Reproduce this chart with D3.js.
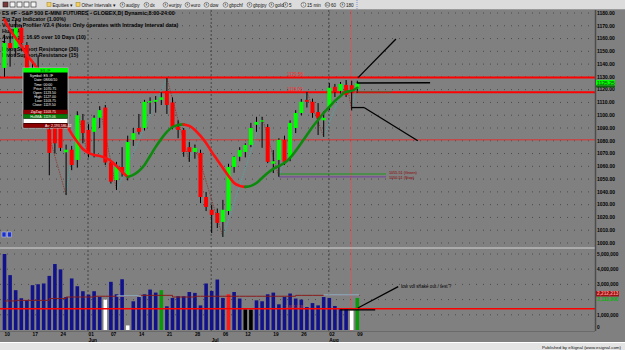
<!DOCTYPE html>
<html>
<head>
<meta charset="utf-8">
<script src="https://cdn.jsdelivr.net/npm/d3@7/dist/d3.min.js"></script>
<style>
body{margin:0;background:#808080;}
svg{display:block;font-family:"Liberation Sans",Arial,sans-serif;}
</style>
</head>
<body>
<div id="chart"></div>
<script>

/*DATA
------------------------------------------------------
------------------------------------------------------
*/

const dates = ["2010-05-10","2010-05-11","2010-05-12","2010-05-13","2010-05-14",
	"2010-05-17","2010-05-18","2010-05-19","2010-05-20","2010-05-21",
	"2010-05-24","2010-05-25","2010-05-26","2010-05-27","2010-05-28",
	"2010-06-01","2010-06-02","2010-06-03","2010-06-04",
	"2010-06-07","2010-06-08","2010-06-09","2010-06-10","2010-06-11",
	"2010-06-14","2010-06-15","2010-06-16","2010-06-17","2010-06-18",
	"2010-06-21","2010-06-22","2010-06-23","2010-06-24","2010-06-25",
	"2010-06-28","2010-06-29","2010-06-30","2010-07-01","2010-07-02",
	"2010-07-06","2010-07-07","2010-07-08","2010-07-09",
	"2010-07-12","2010-07-13","2010-07-14","2010-07-15","2010-07-16",
	"2010-07-19","2010-07-20","2010-07-21","2010-07-22","2010-07-23",
	"2010-07-26","2010-07-27","2010-07-28","2010-07-29","2010-07-30",
	"2010-08-02","2010-08-03","2010-08-04","2010-08-05","2010-08-06",
	"2010-08-09"];

const opens = [1137,1156.5,1152.5,1168.5,1155, 1136,1137,1118,1089,1094,
	1090,1071,1073,1065,1096, 1088.5,1087,1098,1106, 1063,1049.25,1059.5,1052,1080.75,
	1090,1090,1110,1110.5,1112, 1119,1110,1091,1088.5,1075, 1071.25,1070.5,1036,1026,1023.5,
	1016.5,1025,1059.5,1067.5, 1071.25,1076.75,1092.5,1095,1090.75, 1062,1065,1080.75,1066,1090,
	1101.75,1112,1110.5,1102.5,1096, 1105.75,1122.25,1119,1123.75,1123.5, 1120.5];
const highs = [1163,1165,1174.5,1170.75,1157.25, 1142,1147,1122,1092,1097,
	1092,1077,1076,1103,1101, 1093,1100,1107,1108, 1065,1063.5,1075,1084,1090,
	1101,1112,1114,1115,1118, 1129,1114,1096,1090,1079, 1077,1073,1040,1030,1027,
	1033.75,1062,1068,1075, 1078,1094,1098.75,1098.75,1093, 1072.75,1082,1084,1096,1104,
	1112.75,1118.25,1113,1109.5,1103, 1125.25,1124.5,1126,1127.5,1127, 1127];
const lows = [1130,1138,1145.75,1151,1129, 1112,1116,1099,1053,1070,
	1072,1037.5,1057,1059,1078, 1067,1067,1090,1061, 1046.5,1041.5,1052,1049,1076,
	1085,1088,1101,1102,1108, 1101,1089,1082,1067.5,1063.5, 1066,1031.25,1025,1007.75,1011.75,
	1004.75,1022,1055,1064, 1067,1075,1087,1074.5,1062.5, 1054.75,1051.75,1061,1064,1086,
	1100,1106,1098,1084.5,1083, 1104,1114.25,1117,1114.25,1103.75, 1117.5];
const closes = [1156.5,1152.5,1168.5,1156.5,1135, 1134,1119,1113,1070.5,1078,
	1074.5,1073,1061,1100,1086, 1071.25,1098,1104,1063, 1048,1059.5,1055.5,1079,1086,
	1087,1110.5,1111,1112,1114, 1108,1091,1088.5,1071.25,1071.25, 1074.5,1036,1028.25,1022,1015.75,
	1026,1059.5,1067.5,1072.75, 1076.75,1090,1094.75,1096,1063.5, 1064,1080.75,1063.5,1094,1101.75,
	1110.5,1110.5,1101.75,1098,1098, 1121.5,1118.25,1124.5,1116,1119.5, 1125.25];

// volume, millions of contracts
const volumes = [5.0,3.61,2.62,2.09,1.95, 2.95,3.01,3.06,3.56,4.34,
	3.99,2.17,3.39,2.88,2.55, 2.33,2.55,2.17,2.0, 3.17,2.35,3.34,0.30,1.89,
	2.17,2.35,2.66,2.46,2.62, 1.56,2.11,2.22,2.22,2.5, 2.44,1.62,3.06,2.57,3.32,
	2.11,2.35,2.5,2.07, 1.36,1.34,1.95,1.89,2.35, 2.46,1.69,2.17,2.4,2.07,
	2.0,1.51,1.77,1.62,2.17, 2.11,1.58,1.4,1.4,1.29, 2.11];
const volWhite = [18,22,62];
const volGreen = [28,63];
const volRed = [40];
const volBlack = [43,44];

const volAvg = [1.91,1.91,1.95,1.95,1.95, 1.95,1.95,1.95,2.07,2.07,
	2.07,2.17,2.17,2.17,2.17, 2.17,2.22,2.22,2.22,2.22, 2.22,2.22,2.22,2.22,2.28,
	2.28,2.28,2.28,2.28,2.28, 2.17,2.17,2.17,2.17,2.22, 2.22,2.22,2.22,2.22,2.22,
	2.22,2.22,2.22,2.22,2.22, 2.22,2.22,2.22,2.22,2.22, 2.22,2.22,2.28,2.28,2.28,
	2.28,2.28,2.28,2.28,2.28, 2.28,2.28,2.28,2.28];
const volAvgBlue = [[20,24],[57,63]];
const volLevel = 1.40;

const hullMA = [1174.6,1166.8,1160.5,1154.3,1147.2, 1141.7,1135.5,1127.7,1119.8,1112.0,
	1102.6,1093.2,1085.4,1079.1,1073.6, 1070.5,1068.9,1068.1,1066.6,1064.2,
	1060.3,1055.6,1051.7,1053.3,1056.4, 1061.1,1068.1,1075.2,1081.5,1086.9,
	1090.8,1092.4,1092.8,1091.6,1088.5, 1083.8,1078.3,1071.3,1065.0,1058.7,
	1052.5,1047.0,1044.7,1043.9,1044.7, 1047.0,1050.9,1054.8,1058.0,1060.3,
	1062.7,1066.6,1072.1,1078.3,1084.6, 1090.8,1096.3,1101.8,1106.5,1111.2,
	1115.1,1118.3,1119.06,1121.5];

// zig zag pivots: bar index, H = high / L = low
const zigzag = [[2,"H"],[11,"L"],[13,"H"],[15,"L"],[17,"H"],[20,"L"],[29,"H"],[33,"L"],[34,"H"],
	[39,"L"],[46,"H"],[49,"L"],[54,"H"],[57,"L"],[61,"H"],[62,"L"],[63,"H"]];

const priceTicks = d3.range(1000, 1181, 10);
const volTicks = [0,1,3,4,5];
const dayTicks = [0,5,10,15,19,24,29,34,39,43,48,53,58,63];
const monthTicks = [[15,"Jun"],[37,"Jul"],[58,"Aug"]];

const levels = [{p:1129.58, w:2, label:"1129.58"}, {p:1118.00, w:2, label:"1118.00"}, {p:1080.75, w:1, label:""}];
const stops = [{p:1054.01, c:"#00a000", label:"1055.51 (Green)"}, {p:1051.75, c:"#7030a0", label:"1050.51 (Stop)"}];

// drawn lines: [bar index, price]
const drawnLines = [
	[[63.1,1129.2],[69.9,1159.7]],
	[[62.9,1125.2],[76.0,1125.4]],
	[[62.0,1106.0],[64.2,1106.0]],
	[[64.2,1106.0],[73.8,1080.0]]
];
// drawn lines in the volume pane: [bar index, volume]
const drawnVol = [
	[[63.1,1.45],[70.3,2.85]],
	[[59.9,1.32],[66.2,1.32]]
];

const headerLines = ["ES #F - S&P 500 E-MINI FUTURES - GLOBEX,D| Dynamic,8:00-24:00",
	"Zig Zag Indicator (1.00%)",
	"Volume Profiler V2.4 (Note: Only operates with Intraday Interval data)",
	"HullMA",
	"Average: 16.95 over 10 Days (10)",
	"T",
	"Pivot Support Resistance (30)",
	"Pivot Support Resistance (15)"];

const dwLabels = ["Symbol:","Date:","Time:","Price:","Open:","High:","Low:","Close:"];
const dwValues = ["ES #F","08/06/10","00:00","1070.75","1123.50","1127.00","1103.75","1119.50"];

const toolbarItems = ["audjpy","dx","eurjpy","euro","dow","gbpchf","gbpjpy","gold","5","15 min","60","180"];
const toolbarNums = ["E","E","E","E","E","E","E","E","E","5","60","E"];

/*SCALES
------------------------------------------------------
------------------------------------------------------
*/

const width = 625, height = 350;
const plotRight = 595;

const x = d3.scaleLinear().domain([0, 63]).range([4.5, 357.3]);
const y = d3.scaleLinear().domain([1000, 1180]).range([243, 13]);
const yv = d3.scaleLinear().domain([0, 5]).range([330, 254]);

const svg = d3.select("#chart").append("svg")
	.attr("width", width)
	.attr("height", height);

svg.append("rect").attr("width", width).attr("height", height).attr("fill", "#808080");

const defs = svg.append("defs");
defs.append("clipPath").attr("id", "cp").append("rect")
	.attr("x", 0).attr("y", 10).attr("width", plotRight).attr("height", 236);
defs.append("clipPath").attr("id", "cv").append("rect")
	.attr("x", 0).attr("y", 249).attr("width", plotRight).attr("height", 82);

/*GRID
------------------------------------------------------
------------------------------------------------------
*/

svg.append("g").selectAll("line")
	.data(priceTicks)
	.enter().append("line")
	.attr("x1", 0).attr("x2", plotRight)
	.attr("y1", d => y(d)).attr("y2", d => y(d))
	.attr("stroke", "#4a4a4a").attr("stroke-dasharray", "1,6");

svg.append("g").selectAll("line")
	.data([1,2,3,4,5])
	.enter().append("line")
	.attr("x1", 0).attr("x2", plotRight)
	.attr("y1", d => yv(d)).attr("y2", d => yv(d))
	.attr("stroke", "#4a4a4a").attr("stroke-dasharray", "1,6");

svg.append("g").selectAll("line")
	.data(monthTicks)
	.enter().append("line")
	.attr("x1", d => x(d[0]) - 0.5).attr("x2", d => x(d[0]) - 0.5)
	.attr("y1", 10).attr("y2", 331)
	.attr("stroke", "#454545").attr("stroke-dasharray", "2,2");

// cursor
svg.append("line")
	.attr("x1", x(62) - 0.5).attr("x2", x(62) - 0.5)
	.attr("y1", 10).attr("y2", 331)
	.attr("stroke", "#e05050").attr("stroke-width", 0.8);

/*HEADER
------------------------------------------------------
------------------------------------------------------
*/

svg.append("g").selectAll("text")
	.data(headerLines)
	.enter().append("text")
	.attr("x", 2)
	.attr("y", (d, i) => 15 + i * 6)
	.attr("font-size", 5.4)
	.attr("font-weight", "bold")
	.attr("fill", "#000")
	.text(d => d);

/*PRICE PANE
------------------------------------------------------
------------------------------------------------------
*/

const gp = svg.append("g").attr("clip-path", "url(#cp)");

gp.selectAll(".lvl")
	.data(levels)
	.enter().append("line")
	.attr("x1", 0).attr("x2", plotRight)
	.attr("y1", d => y(d.p)).attr("y2", d => y(d.p))
	.attr("stroke", d => d.w > 1 ? "#ff0000" : "#e03030")
	.attr("stroke-width", d => d.w);

gp.selectAll(".lvlt")
	.data(levels.filter(d => d.label))
	.enter().append("text")
	.attr("x", 287).attr("y", d => y(d.p) - 1.5)
	.attr("font-size", 4.5).attr("fill", "#ff2a2a")
	.text(d => d.label);

gp.selectAll(".stop")
	.data(stops)
	.enter().append("line")
	.attr("x1", x(49)).attr("x2", 386)
	.attr("y1", d => y(d.p)).attr("y2", d => y(d.p))
	.attr("stroke", d => d.c).attr("stroke-width", 0.8);

gp.selectAll(".stopt")
	.data(stops)
	.enter().append("text")
	.attr("x", 389).attr("y", (d, i) => y(d.p) + (i ? 2.5 : 0))
	.attr("font-size", 3.8).attr("fill", "#8b0000")
	.text(d => d.label);

// zig zag
const zz = zigzag.map(d => [d[0], d[1] === "H" ? highs[d[0]] : lows[d[0]]]);
gp.selectAll(".zz")
	.data(d3.pairs(zz))
	.enter().append("line")
	.attr("x1", d => x(d[0][0])).attr("y1", d => y(d[0][1]))
	.attr("x2", d => x(d[1][0])).attr("y2", d => y(d[1][1]))
	.attr("stroke", d => d[1][1] > d[0][1] ? "#3cb4b4" : "#8b2a1a")
	.attr("stroke-width", 0.7)
	.attr("stroke-dasharray", "1.5,1");

// candles
const bars = d3.range(dates.length);
gp.selectAll(".wick")
	.data(bars)
	.enter().append("line")
	.attr("x1", i => x(i)).attr("x2", i => x(i))
	.attr("y1", i => y(highs[i])).attr("y2", i => y(lows[i]))
	.attr("stroke", "#000").attr("stroke-width", 1);

gp.selectAll(".body")
	.data(bars)
	.enter().append("rect")
	.attr("x", i => x(i) - 2)
	.attr("width", 4)
	.attr("y", i => y(Math.max(opens[i], closes[i])))
	.attr("height", i => Math.max(1, Math.abs(y(opens[i]) - y(closes[i]))))
	.attr("fill", i => closes[i] >= opens[i] ? "#00ff00" : "#ff0000");

// hull ma, red while falling, green while rising
const hullLine = d3.line().x(d => x(d[0])).y(d => y(d[1])).curve(d3.curveMonotoneX);
let runs = [], start = 0;
for (let i = 1; i < hullMA.length; i++) {
	const up = hullMA[i] >= hullMA[i - 1];
	const nextUp = i + 1 < hullMA.length ? hullMA[i + 1] >= hullMA[i] : up;
	if (up !== nextUp || i === hullMA.length - 1) {
		runs.push({up: up, pts: d3.range(start, i + 1).map(j => [j, hullMA[j]])});
		start = i;
	}
}
gp.selectAll(".hull")
	.data(runs)
	.enter().append("path")
	.attr("d", d => hullLine(d.pts))
	.attr("fill", "none")
	.attr("stroke", d => d.up ? "#0d8a0d" : "#ff1010")
	.attr("stroke-width", 2.6)
	.attr("stroke-linecap", "round");

// drawn lines
gp.selectAll(".drawn")
	.data(drawnLines)
	.enter().append("line")
	.attr("x1", d => x(d[0][0])).attr("y1", d => y(d[0][1]))
	.attr("x2", d => x(d[1][0])).attr("y2", d => y(d[1][1]))
	.attr("stroke", "#000").attr("stroke-width", (d, i) => i === 1 ? 1.6 : 1.3);

gp.append("line")
	.attr("x1", x(62.9)).attr("x2", x(69.2))
	.attr("y1", y(1118.3)).attr("y2", y(1118.3))
	.attr("stroke", "#3c6e3c").attr("stroke-width", 0.8);

// small buttons
svg.selectAll(".btn")
	.data([2, 7.5])
	.enter().append("rect")
	.attr("x", d => d).attr("y", 232).attr("width", 4).attr("height", 5)
	.attr("fill", "#1a30c8").attr("stroke", "#c8d0ff").attr("stroke-width", 0.5);

/*DATA WINDOW
------------------------------------------------------
------------------------------------------------------
*/

const dw = svg.append("g").attr("transform", "translate(23,68)");
dw.append("rect").attr("width", 45).attr("height", 60)
	.attr("fill", "#000").attr("stroke", "#c0c0c0").attr("stroke-width", 0.8);
dw.append("rect").attr("width", 45).attr("height", 4.5).attr("fill", "#00ff00");
dw.append("text").attr("x", 22.5).attr("y", 3.7).attr("text-anchor", "middle")
	.attr("font-size", 3.6).attr("fill", "#004400").text(dwValues[0]);
dw.selectAll(".dl")
	.data(dwLabels)
	.enter().append("text")
	.attr("x", 19.5).attr("y", (d, i) => 9.3 + i * 4.15)
	.attr("text-anchor", "end").attr("font-size", 3.5).attr("fill", "#fff")
	.text(d => d);
dw.selectAll(".dv")
	.data(dwValues)
	.enter().append("text")
	.attr("x", 20.5).attr("y", (d, i) => 9.3 + i * 4.15)
	.attr("font-size", 3.5).attr("fill", "#fff")
	.text(d => d);
const dwRows = [
	{y: 41.8, c: "#8b0000", l: "ZigZag:", v: d3.format(".2f")(lows[62])},
	{y: 46.2, c: "#0a7a0a", l: "HullMA:", v: d3.format(".2f")(hullMA[62])},
	{y: 50.8, c: "#ffffff", l: "", v: ""},
	{y: 55.5, c: "#8b0000", l: "Av:", v: "2,193,586.42"}
];
dw.selectAll(".dr")
	.data(dwRows)
	.enter().append("rect")
	.attr("x", 0.5).attr("width", 44).attr("y", d => d.y).attr("height", 4.2)
	.attr("fill", d => d.c);
dw.selectAll(".drl")
	.data(dwRows)
	.enter().append("text")
	.attr("x", (d, i) => i === 3 ? 27 : 19.5).attr("y", d => d.y + 3.3)
	.attr("text-anchor", "end").attr("font-size", 3.5).attr("fill", "#fff")
	.text(d => d.l);
dw.selectAll(".drv")
	.data(dwRows)
	.enter().append("text")
	.attr("x", (d, i) => i === 3 ? 28 : 20.5).attr("y", d => d.y + 3.3)
	.attr("font-size", 3.5).attr("fill", "#fff")
	.text(d => d.v);

/*VOLUME PANE
------------------------------------------------------
------------------------------------------------------
*/

svg.append("line").attr("x1", 0).attr("x2", plotRight).attr("y1", 248).attr("y2", 248)
	.attr("stroke", "#d4d4d4").attr("stroke-width", 1.2);

const gv = svg.append("g").attr("clip-path", "url(#cv)");

const volColor = i => volWhite.includes(i) ? "#ffffff" : volGreen.includes(i) ? "#0a9a0a"
	: volRed.includes(i) ? "#ff1a1a" : volBlack.includes(i) ? "#000000" : "#12128a";

gv.selectAll(".vol")
	.data(bars)
	.enter().append("rect")
	.attr("x", i => x(i) - 1.8)
	.attr("width", 3.6)
	.attr("y", i => yv(volumes[i]))
	.attr("height", i => yv(0) - yv(volumes[i]))
	.attr("fill", i => volColor(i));

gv.append("line")
	.attr("x1", 0).attr("x2", plotRight)
	.attr("y1", yv(volLevel)).attr("y2", yv(volLevel))
	.attr("stroke", "#ff0000").attr("stroke-width", 1.5);

gv.append("text").attr("x", 285).attr("y", yv(volLevel) - 1)
	.attr("font-size", 4).attr("fill", "#d04848").text("1,402,318");

const avgLine = d3.line().x(i => x(i)).y(i => yv(volAvg[i])).curve(d3.curveStepAfter);
gv.append("path")
	.attr("d", avgLine(bars.concat([63.5])))
	.attr("fill", "none").attr("stroke", "#8b1a1a").attr("stroke-width", 1);
gv.selectAll(".avgb")
	.data(volAvgBlue)
	.enter().append("line")
	.attr("x1", d => x(d[0])).attr("x2", d => x(d[1]) + 2)
	.attr("y1", d => yv(volAvg[d[0]]) - 0.3).attr("y2", d => yv(volAvg[d[0]]) - 0.3)
	.attr("stroke", "#8fd8f0").attr("stroke-width", 1);

gv.selectAll(".dv")
	.data(drawnVol)
	.enter().append("line")
	.attr("x1", d => x(d[0][0])).attr("y1", d => yv(d[0][1]))
	.attr("x2", d => x(d[1][0])).attr("y2", d => yv(d[1][1]))
	.attr("stroke", "#000").attr("stroke-width", 1.3);

gv.append("text").attr("x", 401).attr("y", yv(2.85) + 1.5)
	.attr("font-size", 4.6).attr("fill", "#000").text("low vol shake out  / test ?");

/*AXES
------------------------------------------------------
------------------------------------------------------
*/

svg.append("line").attr("x1", plotRight + 0.5).attr("x2", plotRight + 0.5)
	.attr("y1", 10).attr("y2", 331)
	.attr("stroke", "#4c4c4c").attr("stroke-width", 1.5);

svg.append("g").selectAll("text")
	.data(priceTicks)
	.enter().append("text")
	.attr("x", 597).attr("y", d => y(d) + 1.8)
	.attr("font-size", 5).attr("font-weight", "bold").attr("fill", "#000")
	.text(d => d3.format(".2f")(d));

// last price marker
svg.append("rect").attr("x", 596).attr("y", y(closes[63]) - 3).attr("width", 19).attr("height", 5.5)
	.attr("fill", "#00ff00");
svg.append("rect").attr("x", 596).attr("y", y(closes[63]) + 2.5).attr("width", 19).attr("height", 2)
	.attr("fill", "#0a6a0a");
svg.append("text").attr("x", 597).attr("y", y(closes[63]) + 1.8)
	.attr("font-size", 5).attr("font-weight", "bold").attr("fill", "#0a6a0a")
	.text(d3.format(".2f")(closes[63]));

svg.append("g").selectAll("text")
	.data(volTicks)
	.enter().append("text")
	.attr("x", 597).attr("y", d => Math.min(yv(d) + 1.8, 329))
	.attr("font-size", 4.8).attr("font-weight", "bold").attr("fill", "#000")
	.text(d => d3.format(",")(d * 1e6));

svg.append("rect").attr("x", 596).attr("y", 291).attr("width", 23).attr("height", 5.5).attr("fill", "#9a1414");
svg.append("text").attr("x", 597).attr("y", 295.4)
	.attr("font-size", 4.8).attr("font-weight", "bold").attr("fill", "#ff9090").text("2,212,213");
svg.append("text").attr("x", 597).attr("y", 300.6)
	.attr("font-size", 4.8).attr("font-weight", "bold").attr("fill", "#00b400")
	.text(d3.format(",")(Math.round(volumes[63] * 1e6)));

svg.append("line").attr("x1", 0).attr("x2", plotRight).attr("y1", 331.5).attr("y2", 331.5)
	.attr("stroke", "#6a6a6a");

svg.append("g").selectAll("text")
	.data(dayTicks)
	.enter().append("text")
	.attr("x", i => x(i)).attr("y", 336.3)
	.attr("font-size", 4.8).attr("font-weight", "bold").attr("fill", "#000")
	.text(i => dates[i].slice(8));

svg.append("g").selectAll("text")
	.data(monthTicks)
	.enter().append("text")
	.attr("x", d => x(d[0])).attr("y", 341.5)
	.attr("font-size", 4.8).attr("font-weight", "bold").attr("fill", "#000")
	.text(d => d[1]);

/*TOOLBAR, STATUS BAR
------------------------------------------------------
------------------------------------------------------
*/

svg.append("rect").attr("width", width).attr("height", 9.5).attr("fill", "#dcdcdc");
svg.append("line").attr("x1", 0).attr("x2", width).attr("y1", 9.5).attr("y2", 9.5).attr("stroke", "#9a9a9a");

const tb = svg.append("g");
tb.selectAll(".ic")
	.data([3, 10, 17, 24, 31])
	.enter().append("rect")
	.attr("x", d => d).attr("y", 2).attr("width", 5).attr("height", 5)
	.attr("fill", (d, i) => i === 0 ? "#7a3a3a" : "#f4f4f4")
	.attr("stroke", "#222").attr("stroke-width", 0.6);
tb.selectAll(".fold")
	.data([[47, "Equities"], [76, "Other Intervals"]])
	.enter().append("rect")
	.attr("x", d => d[0]).attr("y", 2.5).attr("width", 4).attr("height", 4)
	.attr("fill", "#f0d060").attr("stroke", "#a08020").attr("stroke-width", 0.5);
tb.selectAll(".foldt")
	.data([[47, "Equities \u25be"], [76, "Other Intervals \u25be"]])
	.enter().append("text")
	.attr("x", d => d[0] + 5.5).attr("y", 6.8)
	.attr("font-size", 4.6).attr("fill", "#111")
	.text(d => d[1]);

const tbX = [120, 144, 163, 185, 204, 223, 247, 269, 283, 301, 325, 340];
tb.selectAll(".circ")
	.data(toolbarItems)
	.enter().append("circle")
	.attr("cx", (d, i) => tbX[i] + 2.5).attr("cy", 4.8).attr("r", 2.4)
	.attr("fill", "#f8f8f8").attr("stroke", "#222").attr("stroke-width", 0.5);
tb.selectAll(".circt")
	.data(toolbarNums)
	.enter().append("text")
	.attr("x", (d, i) => tbX[i] + 2.5).attr("y", 6.1).attr("text-anchor", "middle")
	.attr("font-size", 3.2).attr("fill", "#111")
	.text(d => d);
tb.selectAll(".tbt")
	.data(toolbarItems)
	.enter().append("text")
	.attr("x", (d, i) => tbX[i] + 6).attr("y", 6.8)
	.attr("font-size", 4.6).attr("fill", "#111")
	.text(d => d);
tb.append("line").attr("x1", 357).attr("x2", 357).attr("y1", 0).attr("y2", 9)
	.attr("stroke", "#8090d0").attr("stroke-dasharray", "1,1");

svg.append("rect").attr("y", 342.5).attr("width", width).attr("height", 7.5).attr("fill", "#e4e4e4");
svg.append("line").attr("x1", 0).attr("x2", width).attr("y1", 342.5).attr("y2", 342.5).attr("stroke", "#ffffff");
svg.append("text").attr("x", 621).attr("y", 348.6).attr("text-anchor", "end")
	.attr("font-size", 4.4).attr("fill", "#111")
	.text("Published by eSignal (www.esignal.com)");

</script>
</body>
</html>
